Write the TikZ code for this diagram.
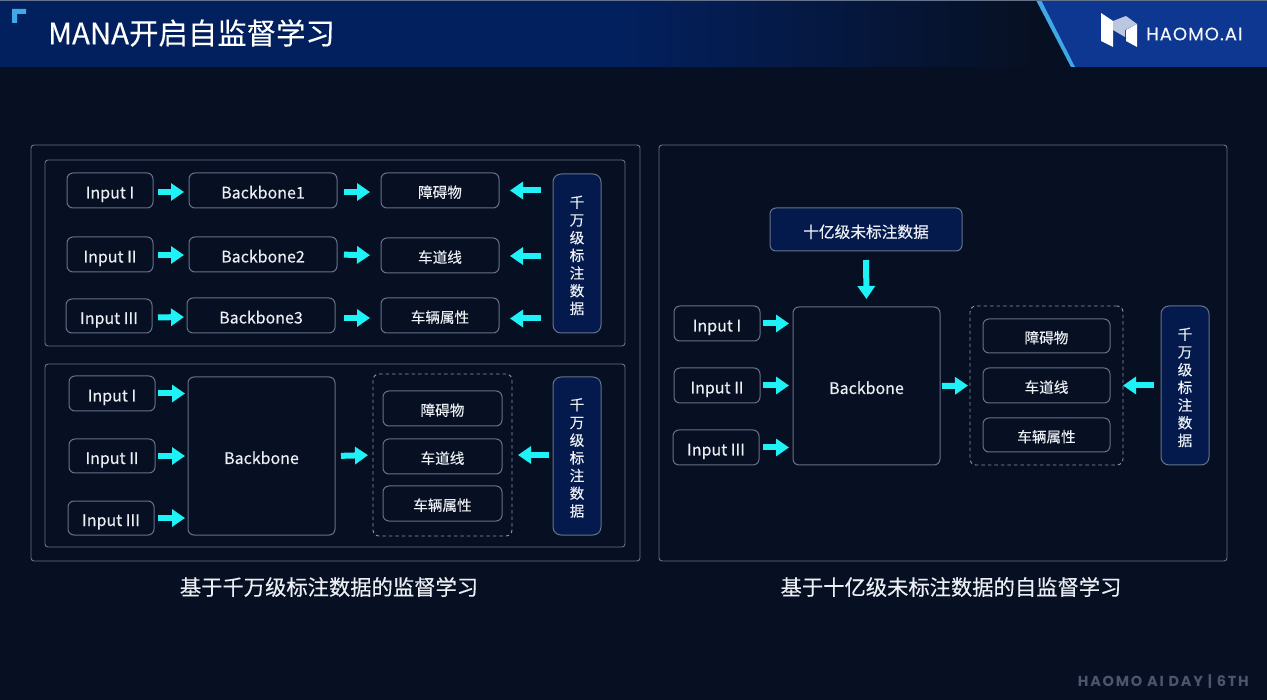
\documentclass[tikz,border=0pt]{standalone}
\usepackage{fontspec}
\usetikzlibrary{arrows.meta,calc}
\setmainfont[FakeBold=0.25]{Noto Sans CJK SC}
\newfontfamily\logofont[LetterSpace=6,FakeBold=0.3]{Poppins}
\newfontfamily\footfont[LetterSpace=12]{Poppins}
\definecolor{bgc}{HTML}{071022}
\definecolor{bandL}{HTML}{03205E}
\definecolor{bandR}{HTML}{0E3791}
\definecolor{stripe}{HTML}{3FA9E8}
\definecolor{edgec}{HTML}{65728C}
\definecolor{dashc}{HTML}{8A94A8}
\definecolor{sidec}{HTML}{041A4D}
\definecolor{txt}{HTML}{ECEFF4}
\definecolor{arrowc}{HTML}{1FF2F7}
\tikzset{
  panelbox/.style={draw=edgec,line width=0.9pt,rounded corners=3pt,fill=none},
  itembox/.style={draw=edgec,line width=1pt,rounded corners=6pt,text=txt,inner sep=0pt,text height=16pt,text depth=0pt,font=\fontsize{16}{18}\selectfont},
  zhbox/.style={itembox,text height=14.5pt,font=\fontsize{14.6}{17}\selectfont},
  sidebox/.style={draw=edgec,line width=1pt,text=txt,inner sep=0pt,fill=sidec,rounded corners=8pt,align=center,font=\fontsize{14.6}{17.7}\selectfont},
  dashbox/.style={draw=dashc,line width=0.9pt,rounded corners=6pt,dash pattern=on 3.5pt off 3pt},
  caption/.style={text=txt,font=\fontsize{21.3}{24}\selectfont,inner sep=0pt},
  blockarrow/.style={draw=arrowc,line width=6pt,-{Triangle[length=13pt,width=17pt]}},
  down/.style={transform canvas={yshift=-#1 pt}},
}
% name, x1, y1, x2, y2, style, text
\newcommand{\bxnode}[7]{%
  \pgfmathsetmacro{\bxw}{#4-#2}\pgfmathsetmacro{\bxh}{#5-#3}%
  \pgfmathsetmacro{\bxcx}{(#2+#4)/2}\pgfmathsetmacro{\bxcy}{(#3+#5)/2}%
  \node[#6,minimum width=\bxw pt,minimum height=\bxh pt,outer sep=0pt] (#1) at (\bxcx,\bxcy) {#7};%
}
\newcommand{\sidetext}{\rule{0pt}{16pt}千\\万\\级\\标\\注\\数\\据}
\begin{document}
\begin{tikzpicture}[x=1pt,y=-1pt]
\useasboundingbox (0,0) rectangle (1267,700);
\fill[bgc] (0,0) rectangle (1267,700);
% header
\fill[bandL] (0,0) rectangle (620,67);
\shade[left color=bandL,right color=bgc] (620,0) rectangle (1040,67);
\fill[bandR] (1037,0) -- (1267,0) -- (1267,67) -- (1073,67) -- cycle;
\fill[stripe] (1036,0) -- (1041,0) -- (1075,67) -- (1071,67) -- cycle;
\fill[edgec] (0,0) rectangle (1267,1);
\fill[stripe] (12,9) -- (26,9) -- (26,14) -- (17,14) -- (17,23) -- (12,23) -- cycle;
\node[anchor=west,text=white,inner sep=0pt,font=\fontsize{29.4}{32}\selectfont] (title) at (48,33) {MANA开启自监督学习};
% logo
\fill[white] (1101,13) -- (1113,21) -- (1113,47) -- (1101,41) -- cycle;
\fill[white] (1137,24) -- (1137,47) -- (1126,41) -- (1126,30) -- cycle;
\fill[white!72!bandR] (1113,21) -- (1126,16) -- (1137,24) -- (1125,30) -- (1125,37) -- (1113,30) -- cycle;
\node[anchor=west,text=white!95!bandR,inner sep=0pt,font=\logofont\fontsize{18}{20}\selectfont] (logotext) at (1146,34) {HAOMO.AI};
% panels
\bxnode{outerL}{31}{145}{640}{561}{panelbox}{}
\bxnode{outerR}{659}{145}{1227}{561}{panelbox}{}
\bxnode{innerT}{45}{160}{625}{346}{panelbox}{}
\bxnode{innerB}{45}{364}{625}{547}{panelbox}{}
% top panel
\bxnode{ta}{67}{173}{153}{208}{itembox}{Input I}
\bxnode{tb}{67}{237}{153}{272}{itembox}{Input II}
\bxnode{tc}{66}{299}{152}{333}{itembox}{Input III}
\bxnode{tba}{189}{173}{337}{208}{itembox}{Backbone1}
\bxnode{tbb}{189}{237}{337}{272}{itembox}{Backbone2}
\bxnode{tbc}{187}{298}{335}{333}{itembox}{Backbone3}
\bxnode{toa}{381}{173}{499}{208}{zhbox}{障碍物}
\bxnode{tob}{381}{238}{499}{273}{zhbox}{车道线}
\bxnode{toc}{381}{298}{499}{333}{zhbox}{车辆属性}
\bxnode{tside}{553}{174}{601}{333}{sidebox}{\sidetext}
\draw[blockarrow,down=1.5,shorten <=5pt,shorten >=5pt] (ta.east) -- (tba.west);
\draw[blockarrow,down=0.5,shorten <=5pt,shorten >=5pt] (tb.east) -- (tbb.west);
\draw[blockarrow,down=1.5,shorten <=6pt,shorten >=3pt] (tc.east) -- (tbc.west);
\draw[blockarrow,down=1.5,shorten <=7pt,shorten >=11pt] (tba.east) -- (toa.west);
\draw[blockarrow,shorten <=7pt,shorten >=11pt] (tbb.east) -- (tob.west);
\draw[blockarrow,down=2.5,shorten <=9pt,shorten >=11pt] (tbc.east) -- (toc.west);
\draw[blockarrow,shorten <=12pt,shorten >=11pt] (tside.west |- toa.east) -- (toa.east);
\draw[blockarrow,down=0.5,shorten <=12pt,shorten >=11pt] (tside.west |- tob.east) -- (tob.east);
\draw[blockarrow,down=3,shorten <=12pt,shorten >=11pt] (tside.west |- toc.east) -- (toc.east);
% bottom panel
\bxnode{ba}{69}{376}{155}{411}{itembox}{Input I}
\bxnode{bb}{69}{439}{155}{473}{itembox}{Input II}
\bxnode{bc}{68}{501}{154}{535}{itembox}{Input III}
\bxnode{bbone}{188}{377}{335}{535}{itembox}{Backbone}
\bxnode{bdash}{373}{374}{512}{536}{dashbox}{}
\bxnode{boa}{383}{391}{502}{426}{zhbox}{障碍物}
\bxnode{bob}{383}{439}{502}{474}{zhbox}{车道线}
\bxnode{boc}{383}{486}{502}{521}{zhbox}{车辆属性}
\bxnode{bside}{553}{377}{601}{535}{sidebox}{\sidetext}
\draw[blockarrow,shorten <=3pt,shorten >=3pt] (ba.east) -- (bbone.west |- ba.east);
\draw[blockarrow,shorten <=3pt,shorten >=3pt] (bb.east) -- (bbone.west |- bb.east);
\draw[blockarrow,shorten <=4pt,shorten >=3pt] (bc.east) -- (bbone.west |- bc.east);
\draw[blockarrow,shorten <=6pt,shorten >=5pt] (bbone.east) -- (bdash.west);
\draw[blockarrow,shorten <=4pt,shorten >=6pt] (bside.west |- bdash.east) -- (bdash.east);
% right panel
\bxnode{rtop}{770}{208}{962}{251}{itembox,fill=sidec,text height=16.5pt,font=\fontsize{15.7}{18}\selectfont}{十亿级未标注数据}
\bxnode{ra}{674}{306}{760}{341}{itembox}{Input I}
\bxnode{rb}{674}{368}{760}{403}{itembox}{Input II}
\bxnode{rc}{673}{430}{759}{465}{itembox}{Input III}
\bxnode{rbone}{793}{307}{940}{465}{itembox}{Backbone}
\bxnode{rdash}{970}{306}{1123}{465}{dashbox}{}
\bxnode{roa}{983}{319}{1110}{353}{zhbox}{障碍物}
\bxnode{rob}{983}{368}{1110}{403}{zhbox}{车道线}
\bxnode{roc}{983}{418}{1110}{452}{zhbox}{车辆属性}
\bxnode{rside}{1161}{306}{1209}{465}{sidebox}{\sidetext}
\draw[blockarrow,shorten <=9pt,shorten >=8pt] (rtop.south) -- (rbone.north);
\draw[blockarrow,shorten <=3pt,shorten >=4pt] (ra.east) -- (rbone.west |- ra.east);
\draw[blockarrow,shorten <=3pt,shorten >=4pt] (rb.east) -- (rbone.west |- rb.east);
\draw[blockarrow,shorten <=4pt,shorten >=4pt] (rc.east) -- (rbone.west |- rc.east);
\draw[blockarrow,shorten <=2pt,shorten >=2pt] (rbone.east) -- (rdash.west);
\draw[blockarrow,shorten <=7pt,shorten >=0pt] (rside.west) -- (rdash.east);
% captions
\node[caption] (capL) at (329,587) {基于千万级标注数据的监督学习};
\node[caption] (capR) at (951,587) {基于十亿级未标注数据的自监督学习};
% footer
\node[anchor=east,text=edgec!72!bgc,inner sep=0pt,font=\footfont\bfseries\fontsize{14.5}{16}\selectfont] (foot) at (1249,682) {HAOMO AI DAY | 6TH};
\end{tikzpicture}
\end{document}
